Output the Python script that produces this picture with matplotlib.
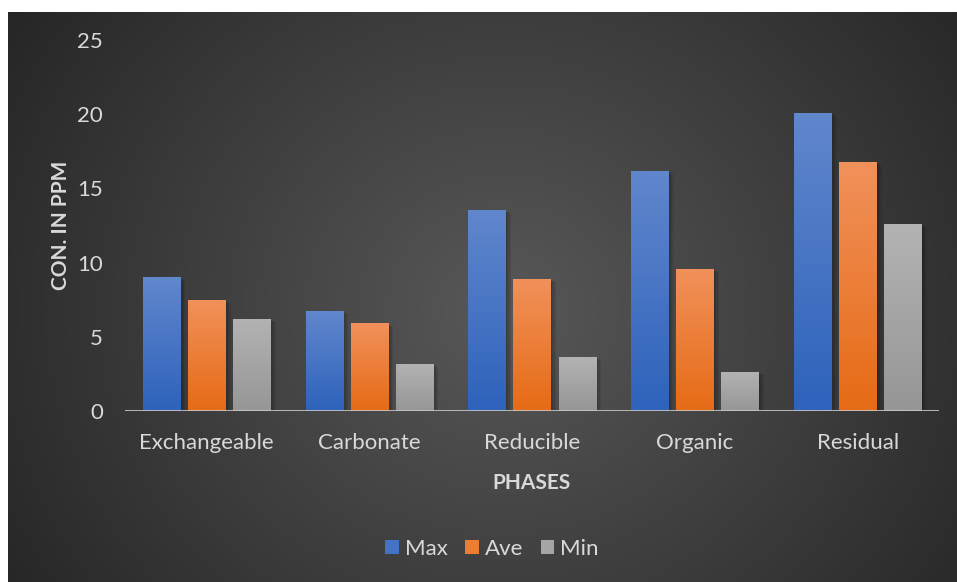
import numpy as np
import matplotlib
matplotlib.use("Agg")
import matplotlib.pyplot as plt
from matplotlib.colors import LinearSegmentedColormap
import matplotlib.patheffects as pe

plt.rcParams['font.family'] = ['Lato', 'DejaVu Sans']

categories = ["Exchangeable", "Carbonate", "Reducible", "Organic", "Residual"]
series_names = ["Max", "Ave", "Min"]
max_vals = [9.0, 6.75, 13.55, 16.2, 20.1]
ave_vals = [7.5, 5.9, 8.9, 9.6, 16.8]
min_vals = [6.2, 3.2, 3.65, 2.65, 12.6]
yticks = [0, 5, 10, 15, 20, 25]

series = [max_vals, ave_vals, min_vals]
grad_colors = [("#6187cd", "#2e62bb"), ("#f1915b", "#e66b15"), ("#b3b3b3", "#969696")]
legend_colors = ["#4472c4", "#ed7d31", "#a5a5a5"]

W, H = 957, 582
fig = plt.figure(figsize=(W / 100, H / 100), dpi=100, facecolor="white")

# background panel with radial gradient
bg = fig.add_axes([8 / W, 0, (W - 8) / W, (H - 12) / H])
bg.set_axis_off()
ny, nx = 300, 500
yy, xx = np.mgrid[0:ny, 0:nx]
cx, cy = 0.52 * nx, 0.52 * ny
r = np.sqrt(((xx - cx) / (nx * 0.62)) ** 2 + ((yy - cy) / (ny * 0.95)) ** 2)
r = np.clip(r, 0, 1)
c_center = np.array([0x58, 0x58, 0x58]) / 255
c_edge = np.array([0x26, 0x26, 0x26]) / 255
img = c_center[None, None, :] * (1 - r[..., None]) + c_edge[None, None, :] * r[..., None]
bg.imshow(img, aspect="auto", extent=[0, 1, 0, 1], interpolation="bilinear")
bg.set_xlim(0, 1)
bg.set_ylim(0, 1)

ax = fig.add_axes([125 / W, (H - 411) / H, (939 - 125) / W, (411 - 40) / H])
ax.set_facecolor("none")
x = np.arange(len(categories))
bw = 0.228
off = 0.277
shadow = [pe.SimplePatchShadow(offset=(o, -o * 0.6), shadow_rgbFace="black", alpha=0.08) for o in (1, 2, 3, 4)]
handles = []
for i, (vals, (ctop, cbot)) in enumerate(zip(series, grad_colors)):
    bars = ax.bar(x + (i - 1) * off, vals, bw, color=legend_colors[i], label=series_names[i], zorder=2,
                  path_effects=shadow + [pe.Normal()])
    cmap = LinearSegmentedColormap.from_list("g%d" % i, [cbot, ctop])
    grad = np.linspace(0, 1, 256).reshape(-1, 1)
    for b in bars:
        x0, y0 = b.get_x(), b.get_y()
        w, h = b.get_width(), b.get_height()
        im = ax.imshow(grad, cmap=cmap, aspect="auto", origin="lower",
                       extent=[x0, x0 + w, y0, y0 + h], zorder=3)
        im.set_clip_path(b)
    handles.append(bars)

ax.set_xlim(-0.5, len(categories) - 0.5)
ax.set_ylim(0, 25)
ax.set_yticks(yticks)
ax.set_xticks(x)
ax.set_xticklabels(categories)
for s in ["top", "right", "left", "bottom"]:
    ax.spines[s].set_visible(False)
ax.axhline(0, color="#c8c8c8", lw=2.2, alpha=0.85, zorder=4)
ax.tick_params(axis="both", length=0, colors="#d9d9d9", labelsize=16)
ax.tick_params(axis="y", pad=16)
ax.tick_params(axis="x", pad=16)
for t in ax.get_xticklabels() + ax.get_yticklabels():
    t.set_color("#d9d9d9")

ax.set_ylabel("CON. IN PPM", fontsize=15, fontweight="bold", color="#d9d9d9", labelpad=4)
ax.set_xlabel("PHASES", fontsize=15, fontweight="bold", color="#d9d9d9", labelpad=14)

leg = fig.legend(handles=[h for h in handles], labels=series_names,
                 loc="center", bbox_to_anchor=(492 / W, 1 - 549 / H), ncol=3, frameon=False,
                 fontsize=16, handlelength=0.6, handleheight=0.6, handletextpad=0.27, columnspacing=0.8)
for t in leg.get_texts():
    t.set_color("#d9d9d9")
for h in leg.legend_handles:
    h.set_path_effects([])

fig.savefig("out.png", dpi=100, facecolor="white")
